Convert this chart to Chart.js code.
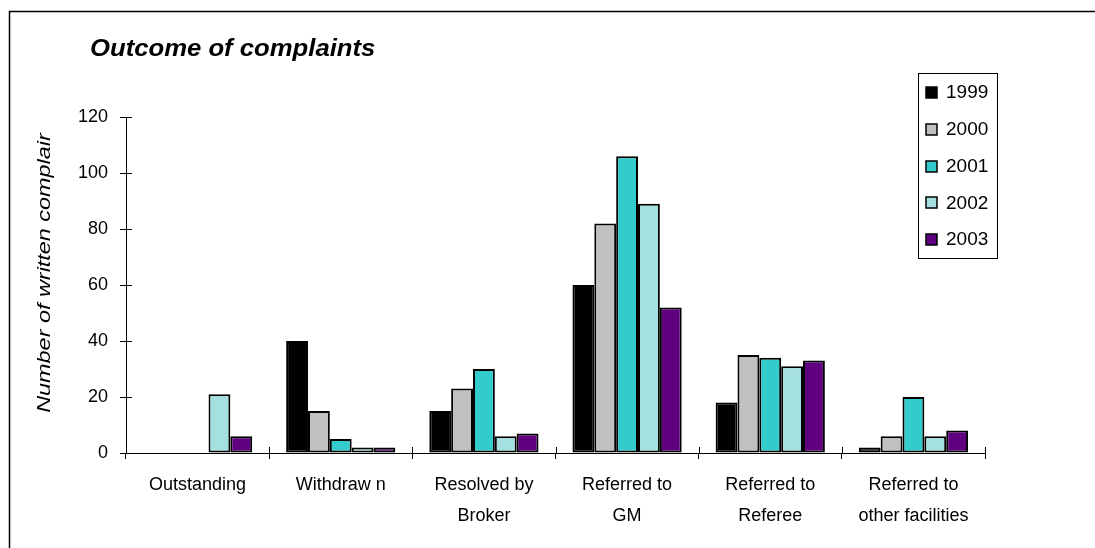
<!DOCTYPE html>
<html>
<head>
<meta charset="utf-8">
<script src="https://cdn.jsdelivr.net/npm/chart.js@4.4.1/dist/chart.umd.min.js"></script>
<style>
html,body{margin:0;padding:0;background:#fff;}
#wrap{width:1095px;height:548px;position:relative;}
</style>
</head>
<body>
<div id="wrap"><canvas id="c" width="1095" height="548"></canvas></div>
<script>
const categories = ["Outstanding", ["Withdraw n"], ["Resolved by", "Broker"], ["Referred to", "GM"], ["Referred to", "Referee"], ["Referred to", "other facilities"]];
const seriesLabels = ["1999", "2000", "2001", "2002", "2003"];
const v1999 = [0, 40, 15, 60, 18, 2];
const v2000 = [0, 15, 23, 82, 35, 6];
const v2001 = [0, 5, 30, 106, 34, 20];
const v2002 = [21, 2, 6, 89, 31, 6];
const v2003 = [6, 2, 7, 52, 33, 8];
const yTicks = [0, 20, 40, 60, 80, 100, 120];
const colors = ["#000000", "#C0C0C0", "#33CCCC", "#A5E0E0", "#600080"];
const chartTitle = "Outcome of complaints";
const yTitle = "Number of written complair";

const FONT = "'Liberation Sans', Arial, sans-serif";
const values = [v1999, v2000, v2001, v2002, v2003];

const decor = {
  id: 'decor',
  afterDraw(chart) {
    const ctx = chart.ctx;
    const xs = chart.scales.x, ys = chart.scales.y;
    ctx.save();
    // frame (left and top edges)
    ctx.strokeStyle = '#000';
    ctx.lineWidth = 1.5;
    ctx.beginPath();
    ctx.moveTo(9.5, 548); ctx.lineTo(9.5, 11.5); ctx.lineTo(1095, 11.5);
    ctx.stroke();
    // inner tick halves
    ctx.lineWidth = 1;
    ctx.strokeStyle = '#000';
    ctx.beginPath();
    yTicks.forEach(t => {
      const y = Math.round(ys.getPixelForValue(t)) + 0.5;
      ctx.moveTo(xs.left, y); ctx.lineTo(xs.left + 6, y);
    });
    const n = categories.length;
    const w = (xs.right - xs.left) / n;
    for (let i = 1; i <= n; i++) {
      const x = Math.round(xs.left + i * w) + 0.5;
      ctx.moveTo(x, ys.bottom); ctx.lineTo(x, ys.bottom - 6);
    }
    ctx.stroke();
    // title
    ctx.fillStyle = '#000';
    ctx.save();
    ctx.translate(90, 49);
    ctx.scale(1.07, 1);
    ctx.font = "italic bold 24px " + FONT;
    ctx.textAlign = 'left';
    ctx.textBaseline = 'middle';
    ctx.fillText(chartTitle, 0, 0);
    ctx.restore();
    // y title
    ctx.save();
    ctx.translate(45, 273);
    ctx.rotate(-Math.PI / 2);
    ctx.scale(1.3, 1);
    ctx.font = "italic 18px " + FONT;
    ctx.textAlign = 'center';
    ctx.textBaseline = 'middle';
    ctx.fillText(yTitle, 0, 0);
    ctx.restore();
    // legend
    ctx.lineWidth = 1;
    ctx.strokeStyle = '#000';
    ctx.strokeRect(918.5, 73.5, 79, 185);
    ctx.font = "19px " + FONT;
    ctx.textAlign = 'left';
    ctx.textBaseline = 'middle';
    chart.data.datasets.forEach((ds, i) => {
      const cy = 92 + i * 36.8;
      ctx.fillStyle = ds.backgroundColor;
      ctx.fillRect(926, Math.round(cy - 5), 11, 11);
      ctx.lineWidth = 1.5;
      ctx.strokeRect(926, Math.round(cy - 5), 11, 11);
      ctx.fillStyle = '#000';
      ctx.fillText(ds.label, 946, cy + 1);
    });
    ctx.restore();
  }
};

new Chart(document.getElementById('c'), {
  type: 'bar',
  data: {
    labels: categories,
    datasets: seriesLabels.map((l, i) => ({
      label: l,
      data: values[i],
      backgroundColor: colors[i],
      borderColor: '#000',
      borderWidth: 2,
      borderSkipped: false,
      categoryPercentage: 0.763,
      barPercentage: 1.0
    }))
  },
  options: {
    responsive: false,
    animation: false,
    devicePixelRatio: 1,
    layout: { padding: { top: 117, right: 110, left: 0, bottom: 0 } },
    plugins: { legend: { display: false }, title: { display: false }, tooltip: { enabled: false } },
    scales: {
      x: {
        afterFit: s => { s.height = 95; },
        grid: { offset: true, drawOnChartArea: false, tickLength: 6, color: '#000', tickColor: '#000' },
        border: { color: '#000', width: 1 },
        ticks: { color: '#000', font: { family: FONT, size: 18, lineHeight: 1.7 }, padding: 11, maxRotation: 0, autoSkip: false }
      },
      y: {
        min: 0, max: 120,
        afterFit: s => { s.width = 126; },
        afterBuildTicks: s => { s.ticks = yTicks.map(v => ({ value: v })); },
        grid: { drawOnChartArea: false, tickLength: 6, color: '#000', tickColor: '#000' },
        border: { color: '#000', width: 1 },
        ticks: { color: '#000', font: { family: FONT, size: 18 }, padding: 12 }
      }
    }
  },
  plugins: [decor]
});
</script>
</body>
</html>
